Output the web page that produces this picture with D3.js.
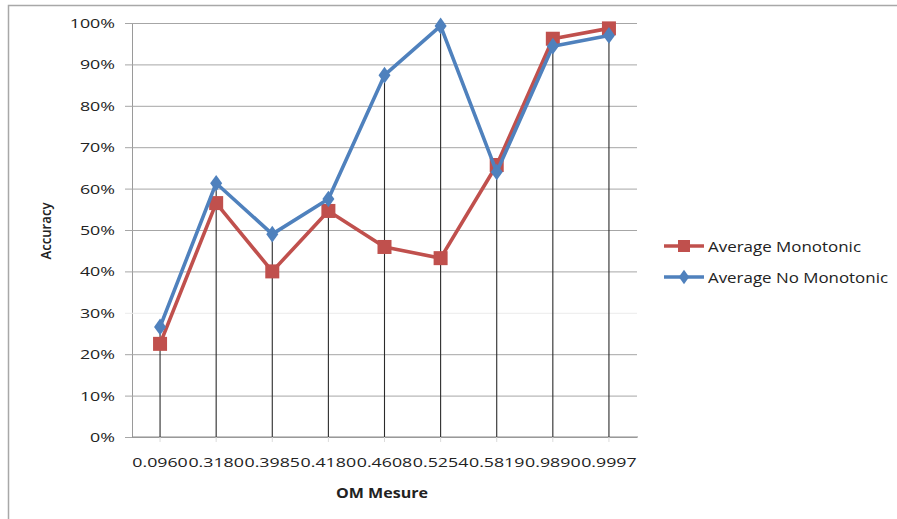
<!DOCTYPE html>
<html>
<head>
<meta charset="utf-8">
<script src="https://cdn.jsdelivr.net/npm/d3@7"></script>
<style>
  html, body { margin: 0; padding: 0; background: #fff; }
  svg { display: block; }
  text { font-family: "Open Sans", "DejaVu Sans", sans-serif; fill: #222; }
</style>
</head>
<body>
<svg id="chart" width="897" height="519"></svg>
<script>
// OM measure values (category labels on the x axis)
const categories = ["0.0960", "0.3180", "0.3985", "0.4180", "0.4608", "0.5254", "0.5819", "0.9890", "0.9997"];
// Accuracy per OM measure
const monotonic   = [0.225, 0.565, 0.400, 0.546, 0.459, 0.432, 0.657, 0.962, 0.987];
const noMonotonic = [0.266, 0.613, 0.490, 0.575, 0.874, 0.993, 0.640, 0.944, 0.970];
const yTicks = [0, 0.1, 0.2, 0.3, 0.4, 0.5, 0.6, 0.7, 0.8, 0.9, 1.0];
const seriesNames = ["Average Monotonic", "Average No Monotonic"];

const RED = "#C0504D", BLUE = "#4F81BD";

const svg = d3.select("#chart");
const plot = { left: 132, right: 637, top: 23, bottom: 437 };

const x = d3.scaleBand().domain(categories).range([plot.left, plot.right]).padding(0);
const y = d3.scaleLinear().domain([0, 1]).range([plot.bottom, plot.top]);
const cx = c => x(c) + x.bandwidth() / 2;

// outer frame (top and left edges visible)
svg.append("path")
  .attr("d", "M8.5,519 L8.5,5.5 L897,5.5")
  .attr("fill", "none").attr("stroke", "#a8a8a8").attr("stroke-width", 1.5);

// horizontal gridlines with outward ticks
const yAxis = d3.axisLeft(y).tickValues(yTicks)
  .tickSize(-(plot.right - plot.left)).tickSizeOuter(0)
  .tickFormat(d3.format(".0%")).tickPadding(17);
const gy = svg.append("g").attr("transform", `translate(${plot.left},0)`).call(yAxis);
gy.select(".domain").attr("stroke", "#9a9a9a");
gy.selectAll(".tick line")
  .attr("x1", -7)
  .attr("stroke", d => Math.abs(d - 0.3) < 1e-9 ? "#ececec" : "#a6a6a6");
gy.selectAll(".tick text")
  .attr("font-size", 13.5).attr("fill", "#2a2a2a")
  .attr("font-family", "'Open Sans', sans-serif")
  .attr("dy", "0.34em")
  .each(function () {
    // widen glyphs horizontally
    const t = d3.select(this);
    const xPos = +t.attr("x");
    t.attr("x", null).attr("transform", `translate(${xPos},0) scale(1.32,1)`);
  });

// x axis baseline
svg.append("line")
  .attr("x1", plot.left).attr("x2", plot.right + 1)
  .attr("y1", y(0)).attr("y2", y(0))
  .attr("stroke", "#8c8c8c").attr("stroke-width", 1);

// faint category ticks
svg.append("g").selectAll("line").data(categories).join("line")
  .attr("x1", cx).attr("x2", cx)
  .attr("y1", y(0)).attr("y2", y(0) + 5)
  .attr("stroke", "#dcdcdc");

// x tick labels
svg.append("g").selectAll("text").data(categories).join("text")
  .attr("x", cx).attr("y", 467)
  .attr("text-anchor", "middle")
  .attr("font-size", 13.5).attr("fill", "#2a2a2a")
  .attr("textLength", 55.5).attr("lengthAdjust", "spacingAndGlyphs")
  .text(d => d);

// drop lines from the highest point of each category to the axis
svg.append("g").selectAll("line").data(categories).join("line")
  .attr("x1", cx).attr("x2", cx)
  .attr("y1", (d, i) => y(Math.max(monotonic[i], noMonotonic[i])))
  .attr("y2", y(0))
  .attr("stroke", "#2b2b2b").attr("stroke-width", 1.1);

const line = d3.line().x((d, i) => cx(categories[i])).y(d => y(d));

function drawSeries(values, color, marker) {
  svg.append("path").datum(values)
    .attr("d", line).attr("fill", "none")
    .attr("stroke", color).attr("stroke-width", 3.6)
    .attr("stroke-linejoin", "round");
  const g = svg.append("g");
  if (marker === "square") {
    g.selectAll("rect").data(values).join("rect")
      .attr("x", (d, i) => cx(categories[i]) - 7)
      .attr("y", d => y(d) - 7)
      .attr("width", 14).attr("height", 14)
      .attr("fill", color);
  } else {
    g.selectAll("path").data(values).join("path")
      .attr("d", d3.symbol(d3.symbolDiamond, 80))
      .attr("transform", (d, i) => `translate(${cx(categories[i])},${y(d)}) scale(1.25,1)`)
      .attr("fill", color);
  }
}
drawSeries(monotonic, RED, "square");
drawSeries(noMonotonic, BLUE, "diamond");

// legend
const legend = [
  { name: seriesNames[0], color: RED, marker: "square", y: 246, w: 153 },
  { name: seriesNames[1], color: BLUE, marker: "diamond", y: 277, w: 180 }
];
const lg = svg.append("g");
legend.forEach(l => {
  lg.append("line").attr("x1", 664).attr("x2", 704).attr("y1", l.y).attr("y2", l.y)
    .attr("stroke", l.color).attr("stroke-width", 3.6);
  if (l.marker === "square") {
    lg.append("rect").attr("x", 678).attr("y", l.y - 6).attr("width", 12).attr("height", 12).attr("fill", l.color);
  } else {
    lg.append("path").attr("d", d3.symbol(d3.symbolDiamond, 60))
      .attr("transform", `translate(684,${l.y}) scale(1.25,1)`).attr("fill", l.color);
  }
  lg.append("text").attr("x", 708).attr("y", l.y + 6)
    .attr("font-size", 14.5).attr("fill", "#2a2a2a")
    .attr("textLength", l.w).attr("lengthAdjust", "spacingAndGlyphs")
    .text(l.name);
});

// axis titles
svg.append("text")
  .attr("transform", "translate(51,231) rotate(-90)")
  .attr("text-anchor", "middle")
  .attr("font-size", 14).attr("font-weight", 600).attr("fill", "#111")
  .attr("textLength", 57).attr("lengthAdjust", "spacingAndGlyphs")
  .text("Accuracy");

svg.append("text")
  .attr("x", 382).attr("y", 498)
  .attr("text-anchor", "middle")
  .attr("font-size", 14.5).attr("font-weight", 700).attr("fill", "#111")
  .attr("textLength", 92).attr("lengthAdjust", "spacingAndGlyphs")
  .text("OM Mesure");
</script>
</body>
</html>
